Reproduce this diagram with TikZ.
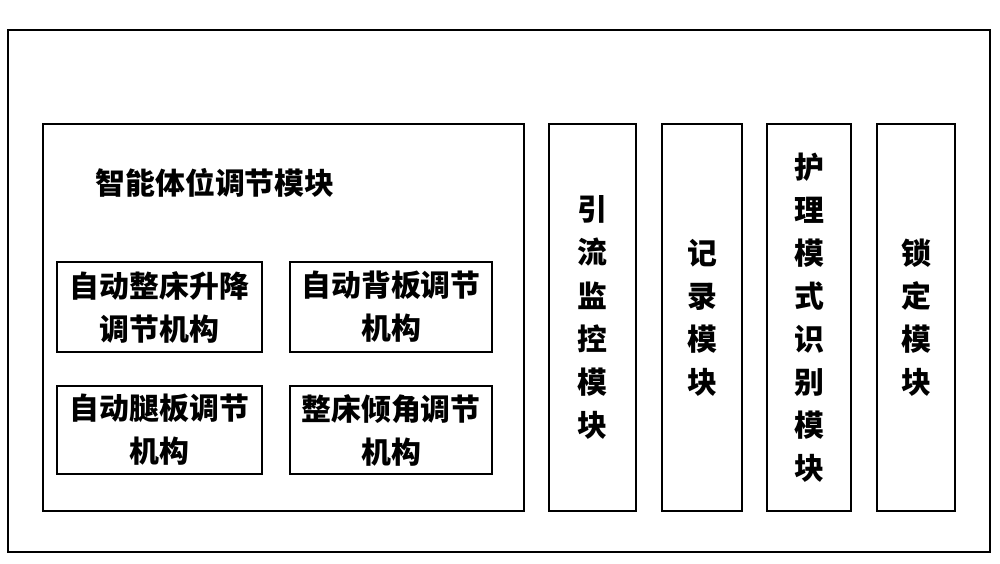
\documentclass[tikz,border=0pt]{standalone}
\usepackage{fontspec}
\newfontfamily\cjk{Noto Sans CJK SC}
\tikzset{box/.style={draw,line width=0.8pt},
  lbl/.style={font=\cjk\fontsize{17}{24.5}\selectfont\bfseries,align=center,inner sep=0pt}}
\begin{document}
\begin{tikzpicture}[x=0.02cm,y=-0.02cm]
\useasboundingbox (0,0) rectangle (1000,564);
\draw[box] (8,30) rectangle (990,552);
\draw[box] (43,124) rectangle (524,511);
\node[lbl] (title) at (215,183) {智能体位调节模块};
% small boxes
\draw[box] (57,262) rectangle node[lbl] (lift) {自动整床升降\\调节机构} (262,352);
\draw[box] (290,262) rectangle node[lbl] (back) {自动背板调节\\机构} (492,352);
\draw[box] (57,386) rectangle node[lbl] (leg) {自动腿板调节\\机构} (262,474);
\draw[box] (290,386) rectangle node[lbl] (tilt) {整床倾角调节\\机构} (492,474);
% vertical modules
\draw[box] (549,124) rectangle node[lbl] (drain) {引\\流\\监\\控\\模\\块} (636,511);
\draw[box] (662,124) rectangle node[lbl] (rec) {记\\录\\模\\块} (742,511);
\draw[box] (767,124) rectangle node[lbl] (care) {护\\理\\模\\式\\识\\别\\模\\块} (851,511);
\draw[box] (877,124) rectangle node[lbl] (lock) {锁\\定\\模\\块} (955,511);
\end{tikzpicture}
\end{document}
